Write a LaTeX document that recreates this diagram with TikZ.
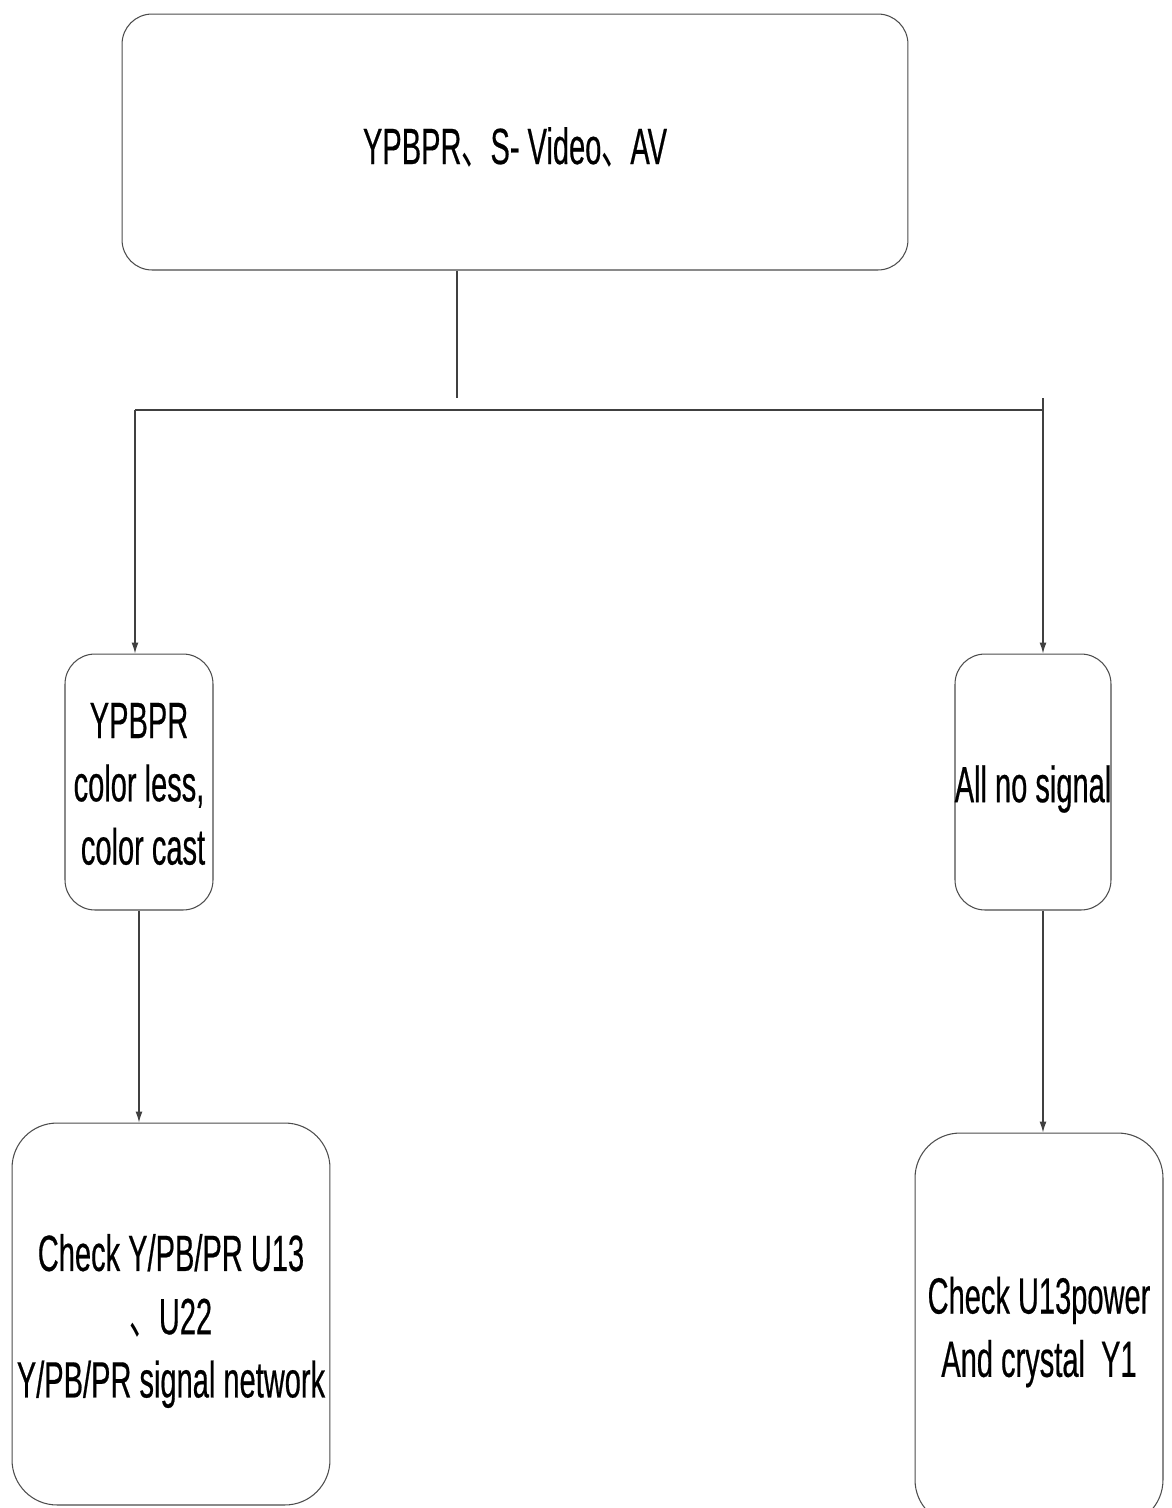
\documentclass[tikz,border=0pt]{standalone}
\usepackage{fontspec}
\setmainfont{Liberation Sans}[FakeStretch=0.57,FakeBold=0.4]
\newfontfamily\cjk{Noto Sans CJK SC}[FakeStretch=0.57]
\usetikzlibrary{arrows.meta}
\newcommand{\dun}{{\cjk 、}}
\begin{document}
\begin{tikzpicture}[x=0.02cm,y=-0.02cm,
  box/.style={draw=black!70, line width=0.6pt, inner sep=0pt},
  txt/.style={align=center, inner sep=0pt, font=\fontsize{29}{36}\selectfont},
  conn/.style={draw=black!75, line width=0.7pt},
  arr/.style={conn, -{Latex[length=2.2mm,width=1.4mm]}}]
\useasboundingbox (0,0) rectangle (1171,1508);
\node[box, rounded corners=0.6cm, minimum width=15.72cm, minimum height=5.12cm] (top) at (515,142) {};
\node[box, rounded corners=0.6cm, minimum width=2.96cm, minimum height=5.12cm] (lm) at (139,782) {};
\node[box, rounded corners=0.6cm, minimum width=3.12cm, minimum height=5.12cm] (rm) at (1033,782) {};
\node[box, rounded corners=0.9cm, minimum width=6.36cm, minimum height=7.64cm] (lb) at (171,1314) {};
\node[box, rounded corners=0.9cm, minimum width=4.96cm, minimum height=7.84cm] (rb) at (1039,1329) {};
\node[txt] (ttop) at (515,147) {YPBPR\dun S- Video\dun AV};
\node[txt] (tlm) at (139,784) {YPBPR\\color less,\\\ color cast};
\node[txt] (trm) at (1033,789) {All no signal};
\node[txt] (tlb) at (171,1321) {Check Y/PB/PR U13\\\dun U22\\Y/PB/PR signal network};
\node[txt] (trb) at (1039,1332) {Check U13power\\And crystal\ \ Y1};
\coordinate (tdrop) at (457,398);
\coordinate (hl) at (135,410);
\coordinate (hr) at (1043,410);
\coordinate (rtop) at (1043,398);
\draw[conn] (top.south -| tdrop) -- (tdrop);
\draw[conn] (hl) -- (hr);
\draw[arr] (hl) -- (hl |- lm.north);
\draw[arr] (rtop) -- (rtop |- rm.north);
\draw[arr] (lm.south) -- (lb.north -| lm.south);
\draw[arr] (rtop |- rm.south) -- (rtop |- rb.north);
\end{tikzpicture}
\end{document}
